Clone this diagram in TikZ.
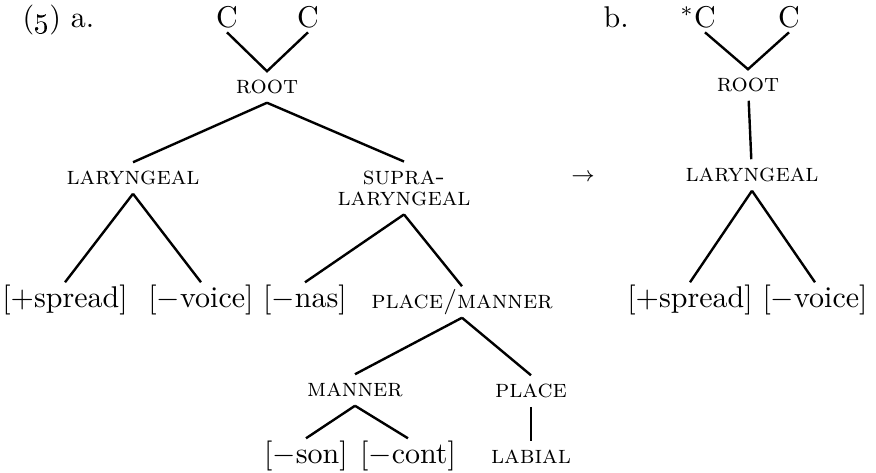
\documentclass[tikz,border=0pt]{standalone}
\usepackage{amsmath}
\usepackage{tikz}
\tikzset{
	cat/.style={inner sep=1.5pt,text height=6.83pt,text depth=0pt},
	tier/.style={font=\fontsize{8.5}{7}\selectfont\scshape,inner xsep=0pt,inner ysep=2.8pt,text height=4.5pt,text depth=0pt},
	tiers/.style={font=\fontsize{8.5}{7}\selectfont\scshape,inner xsep=0pt,inner ysep=2.8pt,align=center},
	feat/.style={inner xsep=0pt,inner ysep=0.7pt,text height=7.5pt,text depth=2.5pt},
	branch/.style={line width=0.8pt}
}
\begin{document}
\begin{tikzpicture}[x=0.3333pt,y=-0.3333pt]
	\useasboundingbox (0,0) rectangle (876,473);
	\node[anchor=base west,inner sep=0pt] (exa) at (22,28) {(\oldstylenums{5}) a.};
	\node[cat] (c1) at (227,17) {C};
	\node[cat] (c2) at (308,17) {C};
	\node[tier] (root) at (267,87) {root};
	\node[tier] (lar) at (133,178) {laryngeal};
	\node[tiers] (supra) at (404,188) {supra-\\laryngeal};
	\node[feat] (spread) at (65,300) {[$+$spread]};
	\node[feat] (voice) at (201,300) {[$-$voice]};
	\node[feat] (nas) at (305,300) {[$-$nas]};
	\node[tier] (pm) at (462,302) {place/manner};
	\node[tier] (manner) at (355,390) {manner};
	\node[tier] (place) at (531,391) {place};
	\node[feat] (son) at (306,456) {[$-$son]};
	\node[feat] (cont) at (408,456) {[$-$cont]};
	\node[tier] (labial) at (531,457) {labial};
	\draw[branch] (c1.south) -- (root.north) -- (c2.south);
	\draw[branch] (root.south) -- (lar.north);
	\draw[branch] (root.south) -- (supra.north);
	\draw[branch] (lar.south) -- (spread.north);
	\draw[branch] (lar.south) -- (voice.north);
	\draw[branch] (supra.south) -- (nas.north);
	\draw[branch] (supra.south) -- (pm.north);
	\draw[branch] (pm.south) -- (manner.north);
	\draw[branch] (pm.south) -- (place.north);
	\draw[branch] (manner.south) -- (son.north);
	\draw[branch] (manner.south) -- (cont.north);
	\draw[branch] (place) -- (labial);

	\node[font=\fontsize{7}{8}\selectfont] (to) at (583,177) {$\rightarrow$};

	\node[anchor=base west,inner sep=0pt] (exb) at (603,28) {b.};
	\node[cat] (bc1) at (705,17) {\llap{$^{*}$}C};
	\node[cat] (bc2) at (789,17) {C};
	\node[tier] (broot) at (748,85) {root};
	\node[tier] (blar) at (752,175) {laryngeal};
	\node[feat] (bspread) at (690,300) {[$+$spread]};
	\node[feat] (bvoice) at (815,300) {[$-$voice]};
	\draw[branch] (bc1.south) -- (broot.north) -- (bc2.south);
	\draw[branch] (broot) -- (blar);
	\draw[branch] (blar.south) -- (bspread.north);
	\draw[branch] (blar.south) -- (bvoice.north);
\end{tikzpicture}
\end{document}
